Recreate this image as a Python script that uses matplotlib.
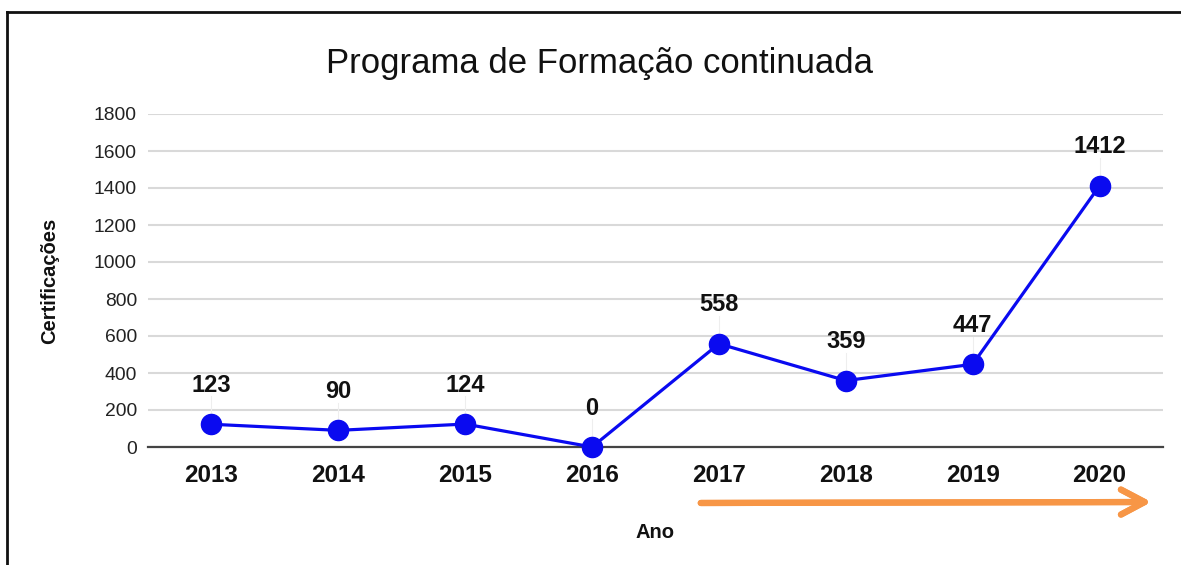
import matplotlib
matplotlib.use("Agg")
import matplotlib.pyplot as plt
from matplotlib.lines import Line2D

years = ["2013", "2014", "2015", "2016", "2017", "2018", "2019", "2020"]
certificacoes = [123, 90, 124, 0, 558, 359, 447, 1412]
yticks = [0, 200, 400, 600, 800, 1000, 1200, 1400, 1600, 1800]

plt.rcParams['font.family'] = ['Liberation Sans', 'DejaVu Sans']

W, H = 1181, 565
fig = plt.figure(figsize=(W / 100, H / 100), dpi=100)
ax = fig.add_axes([148 / W, 1 - 447 / H, (1163 - 148) / W, (447 - 114) / H])

x = list(range(len(years)))
ax.plot(x, certificacoes, color='#0a0af0', lw=2.3, marker='o', markersize=14.5,
        zorder=4, clip_on=False)

for xi, v in zip(x, certificacoes):
    ax.plot([xi, xi], [v, v + 150], color='#eeeeee', lw=0.8, zorder=1)
    ax.annotate(str(v), (xi, v), xytext=(0, 28), textcoords='offset points',
                ha='center', va='center', fontsize=17, fontweight='bold', color='#111111')

ax.set_xlim(-0.5, len(years) - 0.5)
ax.set_ylim(0, 1800)
ax.set_yticks(yticks)
ax.set_xticks(x)
ax.set_xticklabels(years, fontsize=17.5, fontweight='bold', color='#111111')
ax.tick_params(axis='y', length=0, pad=8, labelsize=13.9, labelcolor='#222222')
ax.tick_params(axis='x', length=0, pad=12)
ax.grid(axis='y', color='#d9d9d9', lw=1.5)
ax.set_axisbelow(True)
for s in ['top', 'right', 'left']:
    ax.spines[s].set_visible(False)
ax.spines['bottom'].set_color('#444444')
ax.spines['bottom'].set_linewidth(1.6)

ax.set_ylabel("Certificações", fontsize=14.5, fontweight='bold', color='#111111', labelpad=25)
ax.set_xlabel("Ano", fontsize=14.5, fontweight='bold', color='#111111', labelpad=26)

fig.text(600 / W, 1 - 63 / H, "Programa de Formação continuada", ha='center', va='center',
         fontsize=25, color='#111111')

# frame
fig.add_artist(Line2D([7 / W, 1.0], [1 - 12 / H, 1 - 12 / H], color='#111111', lw=2, transform=fig.transFigure))
fig.add_artist(Line2D([7 / W, 7 / W], [0, 1 - 12 / H], color='#111111', lw=2, transform=fig.transFigure))

# orange arrow
fig.add_artist(plt.annotate('', xy=(1154 / W, 1 - 502 / H), xytext=(698 / W, 1 - 503 / H),
                            xycoords='figure fraction', textcoords='figure fraction',
                            arrowprops=dict(arrowstyle='->,head_length=1.7,head_width=0.9',
                                            color='#f79646', lw=4.5, capstyle='round',
                                            joinstyle='round')))

fig.savefig("out.png", dpi=100)
